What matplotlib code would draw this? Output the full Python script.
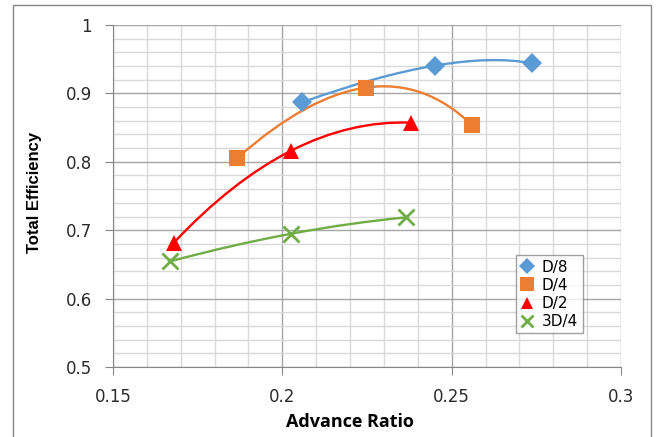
import matplotlib
matplotlib.use('Agg')
import matplotlib.pyplot as plt
from matplotlib.path import Path
from matplotlib.patches import PathPatch, Rectangle
from matplotlib.ticker import MultipleLocator
import numpy as np

plt.rcParams['font.family'] = ['DejaVu Sans']

## data ##
labels = ['D/8', 'D/4', 'D/2', '3D/4']
x_d8 = [0.2059, 0.245, 0.2738]
y_d8 = [0.887, 0.9406, 0.944]
x_d4 = [0.1867, 0.2247, 0.2559]
y_d4 = [0.8054, 0.9085, 0.854]
x_d2 = [0.1679, 0.2027, 0.238]
y_d2 = [0.6813, 0.8165, 0.8572]
x_3d4 = [0.1669, 0.2027, 0.2365]
y_3d4 = [0.6545, 0.6949, 0.7187]

colors = ['#5B9BD5', '#ED7D31', '#FF0000', '#70AD47']
markers = ['D', 's', '^', 'x']
msizes = [10, 12, 11, 11]


## smoothed line like Excel (Catmull-Rom inside, quadratic end pieces) ##
def smooth_path(xs, ys):
    p = np.column_stack([xs, ys]).astype(float)
    n = len(p)
    tang = [None] * n
    for i in range(1, n - 1):
        tang[i] = (p[i + 1] - p[i - 1]) / 2
    verts = [p[0]]
    codes = [Path.MOVETO]
    for i in range(n - 1):
        a, b = p[i], p[i + 1]
        if tang[i] is not None and tang[i + 1] is not None:
            c1 = a + tang[i] / 3
            c2 = b - tang[i + 1] / 3
        elif tang[i + 1] is not None:
            q = b - tang[i + 1] / 2
            c1 = a + 2 / 3 * (q - a)
            c2 = b + 2 / 3 * (q - b)
        elif tang[i] is not None:
            q = a + tang[i] / 2
            c1 = a + 2 / 3 * (q - a)
            c2 = b + 2 / 3 * (q - b)
        else:
            c1, c2 = a, b
        verts += [c1, c2, b]
        codes += [Path.CURVE4] * 3
    return Path(verts, codes)


fig = plt.figure(figsize=(6.57, 4.37), dpi=100)
ax = fig.add_axes([113 / 657, (437 - 367) / 437, 508 / 657, 342 / 437])

# chart border
fig.patches.append(Rectangle((13 / 657, -0.05), (651 - 13) / 657, 1.05 - 5 / 437,
                             transform=fig.transFigure, fill=False,
                             edgecolor='#888888', lw=1))

series = [(x_d8, y_d8), (x_d4, y_d4), (x_d2, y_d2), (x_3d4, y_3d4)]
for (xs, ys), lab, c, m, ms in zip(series, labels, colors, markers, msizes):
    ax.add_patch(PathPatch(smooth_path(xs, ys), facecolor='none', edgecolor=c,
                           lw=1.7, zorder=3))
    mew = 2 if m == 'x' else 0
    ax.plot(xs, ys, linestyle='none', marker=m, color=c, markersize=ms,
            markeredgewidth=mew, label=lab, zorder=4)

ax.set_xlim(0.15, 0.3)
ax.set_ylim(0.5, 1.0)
ax.xaxis.set_minor_locator(MultipleLocator(0.01))
ax.yaxis.set_minor_locator(MultipleLocator(0.02))
ax.set_xticks([0.15, 0.2, 0.25, 0.3])
ax.set_xticklabels(['0.15', '0.2', '0.25', '0.3'])
ax.set_yticks([0.5, 0.6, 0.7, 0.8, 0.9, 1.0])
ax.set_yticklabels(['0.5', '0.6', '0.7', '0.8', '0.9', '1'])

ax.grid(True, which='minor', color='#D9D9D9', lw=1)
ax.grid(True, which='major', color='#A6A6A6', lw=1)
ax.set_axisbelow(True)
ax.tick_params(which='major', direction='out', length=6, color='#868686',
               labelsize=12, labelcolor='#2b2b2b')
ax.tick_params(axis='y', pad=9)
ax.tick_params(axis='x', pad=9)
ax.tick_params(which='minor', length=0)
for s in ['top', 'right']:
    ax.spines[s].set_visible(False)
for s in ['left', 'bottom']:
    ax.spines[s].set_color('#868686')

fig.text(350 / 657, (437 - 422) / 437, 'Advance Ratio', ha='center', va='center',
         fontsize=13, fontweight='bold', family=['Open Sans', 'DejaVu Sans'])
fig.text(34 / 657, (437 - 192) / 437, 'Total Efficiency', ha='center', va='center',
         rotation=90, fontsize=12, fontweight='bold',
         family=['Liberation Sans Narrow', 'Liberation Sans'])

leg = ax.legend(loc='upper left', bbox_to_anchor=(0.793, 0.327), fontsize=11,
                frameon=True, fancybox=False, handlelength=0.9,
                handletextpad=0.5, borderpad=0.3, labelspacing=0.2,
                markerscale=0.85, borderaxespad=0)
leg.get_frame().set_edgecolor('#888888')
leg.get_frame().set_linewidth(1)

fig.savefig('out.png', dpi=100)
